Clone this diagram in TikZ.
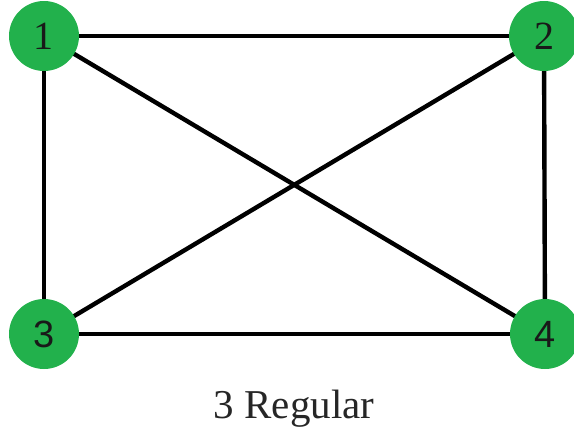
\documentclass[tikz,border=0pt]{standalone}
\usepackage{fontspec}
\usetikzlibrary{backgrounds}
\setmainfont{Liberation Serif}
\newfontfamily\digsans{Liberation Sans}
\definecolor{vgreen}{RGB}{34,177,76}
\begin{document}
\begin{tikzpicture}[x=1pt,y=-1pt,
  vtx/.style={circle,fill=vgreen,minimum size=70pt,inner sep=0pt,font=\fontsize{40}{44}\selectfont,text=black!90},
  vtxs/.style={vtx,font=\digsans\fontsize{38}{42}\selectfont},
  edge/.style={line width=4.4pt,black}]
\useasboundingbox (0,0) rectangle (574,439);
\node[vtx] (n1) at (44,36) {1};
\node[vtx] (n2) at (544,36) {2};
\node[vtxs] (n3) at (44,334) {3};
\node[vtxs] (n4) at (545,334) {4};
\begin{pgfonlayer}{background}
\draw[edge] (n1.center) -- (n2.center);
\draw[edge] (n1.center) -- (n3.center);
\draw[edge] (n1.center) -- (n4.center);
\draw[edge] (n2.center) -- (n3.center);
\draw[edge] (n2.center) -- (n4.center);
\draw[edge] (n3.center) -- (n4.center);
\end{pgfonlayer}
\node[font=\fontsize{41}{45}\selectfont,text=black!85] (cap) at (294,409) {3 Regular};
\end{tikzpicture}
\end{document}
